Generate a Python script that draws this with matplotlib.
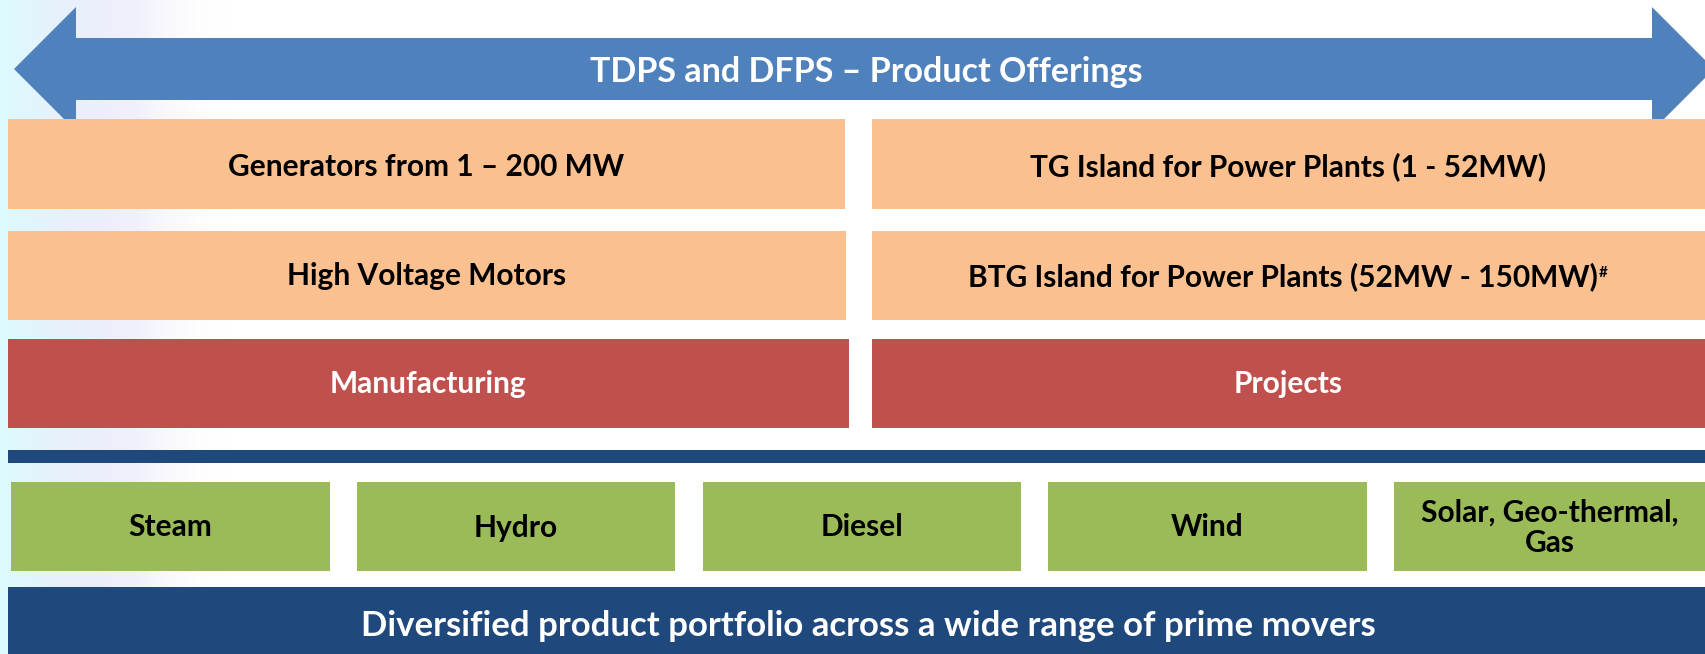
import numpy as np
import matplotlib.pyplot as plt
from matplotlib.patches import Rectangle, Polygon
from matplotlib.colors import LinearSegmentedColormap

# ============================================================
# Content
# ============================================================
title = "TDPS and DFPS \u2013 Product Offerings"
manufacturing_items = ["Generators from 1 \u2013 200 MW", "High Voltage Motors"]
project_items = ["TG Island for Power Plants (1 - 52MW)", "BTG Island for Power Plants (52MW - 150MW)"]
project_marks = ["", "#"]
segments = ["Manufacturing", "Projects"]
prime_movers = ["Steam", "Hydro", "Diesel", "Wind", "Solar, Geo-thermal,\nGas"]
footer = "Diversified product portfolio across a wide range of prime movers"

# ============================================================
# Style / layout (pixels, y down)
# ============================================================
W, H = 1705, 654
C_ARROW = "#4F81BD"
C_ORANGE = "#FAC090"
C_RED = "#C0504D"
C_GREEN = "#9BBB59"
C_NAVY = "#1F497D"
FONT = "Lato"
FS_ROW = 21.5
FS_BIG = 24.5

left_cols = [(8, 845), (8, 846), (8, 849)]
right_col = (872, 1705)
rows_y = [(119, 209), (231, 320), (339, 428)]
row_dy = [3, 1]
green_x = [(11, 330), (357, 675), (703, 1021), (1048, 1367), (1394, 1705)]
green_y = (482, 571)
line_y = (450, 463)
footer_y = (587, 654)
centre_x = 866  # title/footer text centre

fig = plt.figure(figsize=(W / 100, H / 100), dpi=100)
ax = fig.add_axes([0, 0, 1, 1])
ax.set_xlim(0, W)
ax.set_ylim(H, 0)
ax.axis("off")

# faint background swirl on the left edge
grad = np.linspace(0, 1, 256)
cmap = LinearSegmentedColormap.from_list(
    "bg", [(0.0, "#DDFBFF"), (0.3, "#DFEBFB"), (0.6, "#DCDCF8"), (1.0, "#FFFFFF")])
img = cmap(grad)[None, :, :].repeat(2, axis=0)
img[..., 3] = np.clip(1.0 - grad, 0, 1)
ax.imshow(img, extent=(0, 230, H, 0), aspect="auto", zorder=0)


def box(x0, x1, y0, y1, color):
    ax.add_patch(Rectangle((x0, y0), x1 - x0, y1 - y0, facecolor=color,
                           edgecolor="none", zorder=2))


def label(xc, yc, s, color, size):
    return ax.text(xc, yc, s, ha="center", va="center",
                   color=color, fontsize=size, fontweight="bold", family=FONT,
                   zorder=3, linespacing=1.12)


# double-headed arrow
ay, head, shaft = 69, 62, 31
x_l, x_r = 14, 1714
arrow = [(x_l, ay), (x_l + head, ay - head), (x_l + head, ay - shaft),
         (x_r - head, ay - shaft), (x_r - head, ay - head), (x_r, ay),
         (x_r - head, ay + head), (x_r - head, ay + shaft),
         (x_l + head, ay + shaft), (x_l + head, ay + head)]
ax.add_patch(Polygon(arrow, closed=True, facecolor=C_ARROW, edgecolor="none", zorder=2))
label(centre_x, ay + 3, title, "white", FS_BIG)

# orange rows
for i in range(2):
    y0, y1 = rows_y[i]
    yc = (y0 + y1) / 2 + row_dy[i]
    lx0, lx1 = left_cols[i]
    box(lx0, lx1, y0, y1, C_ORANGE)
    label((lx0 + lx1) / 2, yc, manufacturing_items[i], "black", FS_ROW)
    box(right_col[0], right_col[1], y0, y1, C_ORANGE)
    shift = -6 if project_marks[i] else 0
    t = label((right_col[0] + right_col[1]) / 2 + shift, yc, project_items[i], "black", FS_ROW)
    if project_marks[i]:
        fig.canvas.draw()
        bb = t.get_window_extent().transformed(ax.transData.inverted())
        ax.text(bb.x1 + 1, bb.y1 + 4, project_marks[i], ha="left", va="top",
                color="black", fontsize=11, fontweight="bold", family=FONT, zorder=3)

# red segment row
y0, y1 = rows_y[2]
box(left_cols[2][0], left_cols[2][1], y0, y1, C_RED)
label(sum(left_cols[2]) / 2, (y0 + y1) / 2, segments[0], "white", FS_ROW)
box(right_col[0], right_col[1], y0, y1, C_RED)
label(sum(right_col) / 2, (y0 + y1) / 2, segments[1], "white", FS_ROW)

# separator line
box(8, W, line_y[0], line_y[1], C_NAVY)

# prime movers
for (x0, x1), name in zip(green_x, prime_movers):
    box(x0, x1, green_y[0], green_y[1], C_GREEN)
    label((x0 + x1) / 2, sum(green_y) / 2 + 1, name, "black", FS_ROW)

# footer bar
box(8, W, footer_y[0], footer_y[1], C_NAVY)
label(centre_x + 2, sum(footer_y) / 2 + 5, footer, "white", FS_BIG + 0.5)

fig.savefig("out.png", dpi=100)
